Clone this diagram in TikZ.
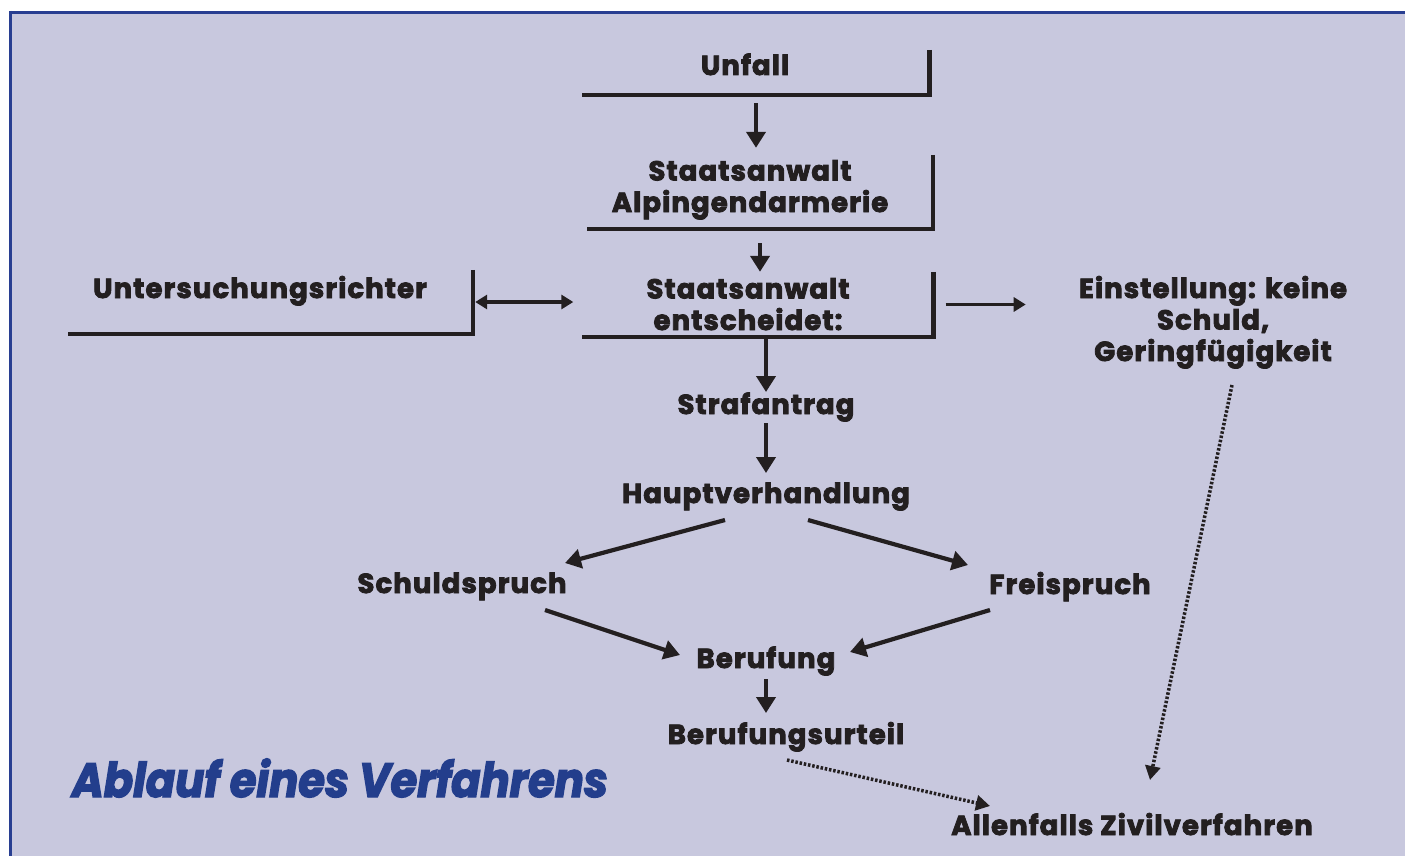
\documentclass[tikz,border=0pt]{standalone}
\usepackage{fontspec}
\setmainfont{Poppins}[LetterSpace=4, BoldFeatures={FakeBold=3}]
\newfontfamily\titlefont{Poppins}[FakeStretch=0.9, BoldFeatures={FakeBold=3}, BoldItalicFeatures={FakeBold=3}]
\usetikzlibrary{arrows.meta,calc}
\definecolor{bg}{RGB}{200,200,222}
\definecolor{frame}{RGB}{40,62,145}
\definecolor{ink}{RGB}{35,31,32}
\definecolor{titleblue}{RGB}{35,62,140}
\begin{document}
\begin{tikzpicture}[x=1pt,y=-1pt,
  lbl/.style={inner sep=0pt, anchor=base, text=ink, align=center,
    font=\fontsize{27.5}{31.5}\selectfont\bfseries},
  box/.style={inner sep=0pt, draw=none},
  bline/.style={draw=ink, line width=4.5pt, line join=miter},
  arr/.style={draw=ink, line width=4.2pt, -{Triangle[length=16pt,width=19pt]}},
  harr/.style={draw=ink, line width=3.5pt, -{Triangle[length=12pt,width=14pt]}},
  darr/.style={draw=ink, line width=3.5pt, {Triangle[length=12pt,width=14pt]}-{Triangle[length=12pt,width=14pt]}},
  dot/.style={draw=ink, line width=3.5pt, dash pattern=on 2.5pt off 1.8pt, -{Triangle[length=14pt,width=15pt]}}
]
\useasboundingbox (0,0) rectangle (1407,856);
\fill[white] (0,0) rectangle (1407,856);
\fill[bg] (10,12) rectangle (1405,856);
\draw[frame, line width=3pt] (9,12.5) -- (1405,12.5);
\draw[frame, line width=3pt] (10.5,11) -- (10.5,856);

% bracket boxes
\node[box, minimum width=347pt, minimum height=45pt] (b1) at (756,72.5) {};
\node[box, minimum width=346pt, minimum height=74pt] (b2) at (760,192) {};
\node[box, minimum width=351pt, minimum height=65pt] (b3) at (758,304.5) {};
\node[box, minimum width=405pt, minimum height=64pt] (b4) at (270.5,302) {};
\foreach \b in {b1,b2,b3,b4}
  \draw[bline] (\b.north east) -- (\b.south east) -- (\b.south west);

% labels (base = baseline of last line)
\node[lbl] (t1) at (745,75) {Unfall};
\node[lbl] (t2) at (750,212) {Staatsanwalt\\Alpingendarmerie};
\node[lbl] (t3) at (748,330) {Staatsanwalt\\entscheidet:};
\node[lbl] (t4) at (260,298) {Untersuchungsrichter};
\node[lbl] (t5) at (1213,361) {Einstellung: keine\\Schuld,\\Geringfügigkeit};
\node[lbl] (t6) at (766,414) {Strafantrag};
\node[lbl] (t7) at (766,503) {Hauptverhandlung};
\node[lbl] (t8) at (462,593) {Schuldspruch};
\node[lbl] (t9) at (1070,594) {Freispruch};
\node[lbl] (t10) at (766,668) {Berufung};
\node[lbl] (t11) at (786,744) {Berufungsurteil};
\node[lbl] (t12) at (1132,835) {Allenfalls Zivilverfahren};
\node[inner sep=0pt, anchor=base, text=titleblue,
  font=\titlefont\fontsize{48}{52}\selectfont\bfseries\itshape] (title) at (340,797) {Ablauf eines Verfahrens};

% connectors
\draw[arr, shorten <=8pt, shorten >=7pt] (b1.south) -- (b1.south |- b2.north);
\draw[arr, shorten <=14pt] (b2.south) -- (b2.south |- b3.north);
\draw[darr, shorten <=2pt, shorten >=9pt] (b4.east) -- (b4.east -| b3.west);
\draw[harr, shorten <=12pt] (b3.east) -- ([xshift=92pt]b3.east);
\draw[arr] (t6.base |- b3.south) -- ([yshift=22pt]t6.base);
\draw[arr] ([yshift=-9pt]t6.base) -- ([yshift=30pt]t7.base);
\draw[arr] ([shift={(-41pt,-17pt)}]t7.base) -- ([shift={(103pt,30pt)}]t8.base);
\draw[arr] ([shift={(42pt,-17pt)}]t7.base) -- ([shift={(-102pt,29pt)}]t9.base);
\draw[arr] ([shift={(83pt,-17pt)}]t8.base) -- ([shift={(-86pt,13pt)}]t10.base);
\draw[arr] ([shift={(-80pt,-16pt)}]t9.base) -- ([shift={(84pt,16pt)}]t10.base);
\draw[arr] ([shift={(0pt,-11pt)}]t10.base) -- ([shift={(-20pt,31pt)}]t11.base);
\draw[dot] ([shift={(1pt,-16pt)}]t11.base) -- ([shift={(-142pt,29pt)}]t12.base);
\draw[dot] ([shift={(19pt,-24pt)}]t5.base) -- ([shift={(18pt,55pt)}]t12.base);
\end{tikzpicture}
\end{document}
